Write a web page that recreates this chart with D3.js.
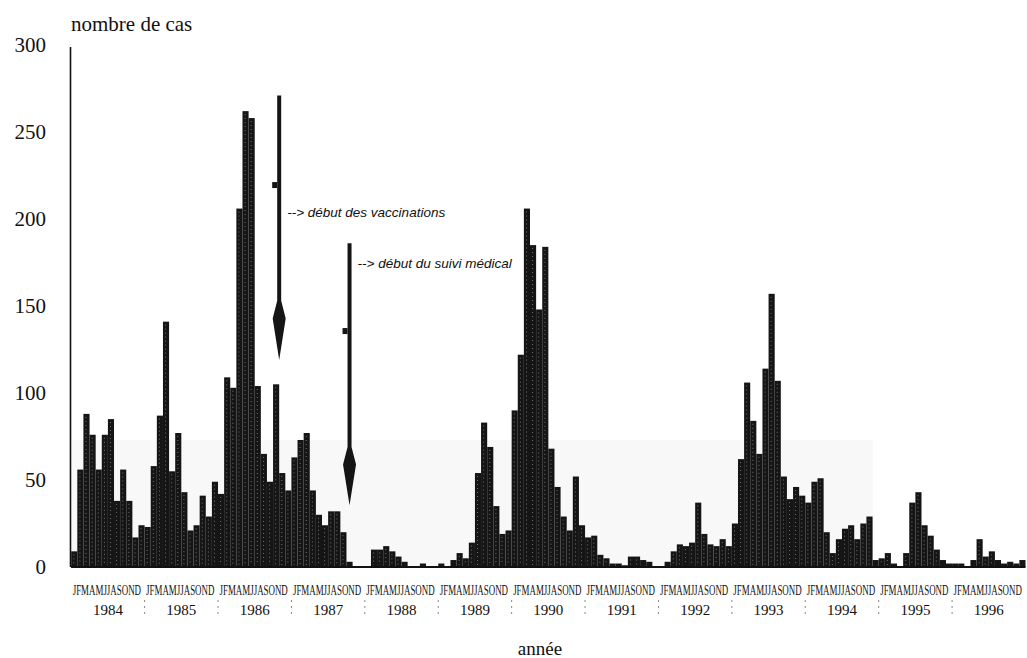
<!DOCTYPE html>
<html>
<head>
<meta charset="utf-8">
<script src="https://cdn.jsdelivr.net/npm/d3@7"></script>
<style>
  body { margin: 0; background: #fff; }
  svg { display: block; }
  .note { font-family: "Liberation Sans", Arial, sans-serif; font-style: italic; font-size: 13.5px; fill: #111; }
</style>
</head>
<body>
<svg id="chart"></svg>
<script>
// monthly number of cases, Jan..Dec of each year
const years = [1984, 1985, 1986, 1987, 1988, 1989, 1990, 1991, 1992, 1993, 1994, 1995, 1996];
const monthLetters = ["J", "F", "M", "A", "M", "J", "J", "A", "S", "O", "N", "D"];
const cases1984 = [9, 56, 88, 76, 56, 76, 85, 38, 56, 38, 17, 24];
const cases1985 = [23, 58, 87, 141, 55, 77, 43, 21, 24, 41, 29, 49];
const cases1986 = [42, 109, 103, 206, 262, 258, 104, 65, 49, 105, 54, 44];
const cases1987 = [63, 73, 77, 44, 30, 24, 32, 32, 20, 3, 0, 0];
const cases1988 = [0, 10, 10, 12, 9, 6, 3, 0, 0, 2, 0, 0];
const cases1989 = [2, 0, 4, 8, 5, 14, 54, 83, 69, 35, 19, 21];
const cases1990 = [90, 122, 206, 185, 148, 184, 68, 46, 29, 21, 52, 24];
const cases1991 = [17, 18, 7, 5, 2, 2, 1, 6, 6, 4, 3, 0];
const cases1992 = [0, 3, 9, 13, 12, 14, 37, 19, 13, 12, 16, 12];
const cases1993 = [25, 62, 106, 84, 65, 114, 157, 107, 52, 39, 46, 41];
const cases1994 = [37, 49, 51, 20, 8, 16, 22, 24, 16, 25, 29, 4];
const cases1995 = [5, 8, 2, 0, 8, 37, 43, 24, 18, 10, 4, 2];
const cases1996 = [2, 2, 0, 4, 16, 6, 9, 4, 2, 3, 2, 4];
const yTicks = [0, 50, 100, 150, 200, 250, 300];

// annotations: month index (0 = Jan 1984), values in number of cases
const noteTexts = ["--> début des vaccinations", "--> début du suivi médical"];
const noteMonths = [34, 45.5];
const noteTops = [271, 186];
const noteHeads = [153, 69];
const noteTips = [119, 35.5];
const noteMarks = [219.5, 135.6];
const noteLabels = [201, 172];

const width = 1027, height = 658;
const serif = "'Liberation Serif', 'Times New Roman', serif";
const svg = d3.select("#chart").attr("width", width).attr("height", height);

const cases = [cases1984, cases1985, cases1986, cases1987, cases1988, cases1989, cases1990,
  cases1991, cases1992, cases1993, cases1994, cases1995, cases1996].flat();
const months = cases.map((v, i) => ({ i: i, value: v }));

const x = d3.scaleBand().domain(d3.range(cases.length)).range([71.2, 1025.5]).padding(0);
const xYear = d3.scaleBand().domain(years).range([71.2, 1025.5]).padding(0);
const y = d3.scaleLinear().domain([0, 300]).range([567, 45]);
const xm = m => x.range()[0] + m * x.step(); // fractional month -> pixel

// faint shading left by the scan
svg.append("rect")
  .attr("x", 72).attr("y", 440).attr("width", 801).attr("height", y(0) - 440)
  .attr("fill", "#f8f8f8");

// bars
const bars = svg.append("g");
bars.selectAll("rect").data(months).join("rect")
  .attr("x", d => x(d.i))
  .attr("y", d => y(d.value))
  .attr("width", x.bandwidth())
  .attr("height", d => y(0) - y(d.value))
  .attr("fill", "#151515");
// light speckle inside each bar
bars.selectAll("line").data(months.filter(d => d.value > 4)).join("line")
  .attr("x1", d => x(d.i) + 2.6).attr("x2", d => x(d.i) + 2.6)
  .attr("y1", d => y(d.value) + 3).attr("y2", y(0) - 2)
  .attr("stroke", "#8c8c8c").attr("stroke-width", 0.8)
  .attr("stroke-dasharray", "1,3");

// baseline and vertical axis line
svg.append("line")
  .attr("x1", 71).attr("x2", 1025.5).attr("y1", y(0)).attr("y2", y(0))
  .attr("stroke", "#111").attr("stroke-width", 2);
svg.append("line")
  .attr("x1", 70.5).attr("x2", 70.5).attr("y1", y(300) + 2).attr("y2", y(0))
  .attr("stroke", "#111").attr("stroke-width", 1.6);

// y tick labels
const yAxis = svg.append("g")
  .attr("transform", "translate(71,0)")
  .call(d3.axisLeft(y).tickValues(yTicks).tickSize(0).tickPadding(25));
yAxis.select(".domain").remove();
yAxis.attr("font-family", serif).attr("font-size", 21).attr("color", "#111");

// month letters, squeezed into each year's width as in the original
const monthText = svg.append("g").selectAll("text").data(years).join("text")
  .attr("font-family", serif).attr("font-size", 14).attr("fill", "#111")
  .text(monthLetters.join(""));
monthText.attr("transform", function (d) {
  const k = (xYear.bandwidth() - 5) / this.getComputedTextLength();
  return `translate(${xYear(d) + 1.5},${y(0) + 28}) scale(${k},1)`;
});

// year labels
const yrAxis = svg.append("g")
  .attr("transform", `translate(0,${y(0)})`)
  .call(d3.axisBottom(xYear).tickSize(0).tickPadding(37));
yrAxis.select(".domain").remove();
yrAxis.attr("font-family", serif).attr("font-size", 15).attr("color", "#111");

// small separators between years
svg.append("g").selectAll("line").data(years.slice(1)).join("line")
  .attr("x1", d => xYear(d)).attr("x2", d => xYear(d))
  .attr("y1", 600).attr("y2", 614)
  .attr("stroke", "#888").attr("stroke-width", 1)
  .attr("stroke-dasharray", "2,4");

// axis titles
svg.append("text")
  .attr("x", 71).attr("y", 31)
  .attr("font-family", serif).attr("font-size", 21).attr("fill", "#111")
  .text("nombre de cas");
svg.append("text")
  .attr("x", 540).attr("y", 655).attr("text-anchor", "middle")
  .attr("font-family", serif).attr("font-size", 19).attr("fill", "#111")
  .text("année");

// arrows with their notes
const notes = noteTexts.map((t, k) => ({
  text: t, cx: xm(noteMonths[k]), top: y(noteTops[k]), head: y(noteHeads[k]),
  tip: y(noteTips[k]), mark: y(noteMarks[k]), label: y(noteLabels[k])
}));
const arrows = svg.append("g");
arrows.selectAll("path").data(notes).join("path")
  .attr("d", d => {
    const w = (d.tip - d.head) * 0.3;
    return `M${d.cx - 2},${d.top} L${d.cx + 2},${d.top} L${d.cx + 2},${d.head}
      L${d.cx + 6.5},${d.head + w} L${d.cx},${d.tip} L${d.cx - 6.5},${d.head + w}
      L${d.cx - 2},${d.head} Z`;
  })
  .attr("fill", "#151515");
arrows.selectAll("rect").data(notes).join("rect")
  .attr("x", d => d.cx - 7).attr("y", d => d.mark - 3)
  .attr("width", 5).attr("height", 6)
  .attr("fill", "#151515");
arrows.selectAll("text").data(notes).join("text")
  .attr("class", "note")
  .attr("x", d => d.cx + 8).attr("y", d => d.label)
  .text(d => d.text);
</script>
</body>
</html>
